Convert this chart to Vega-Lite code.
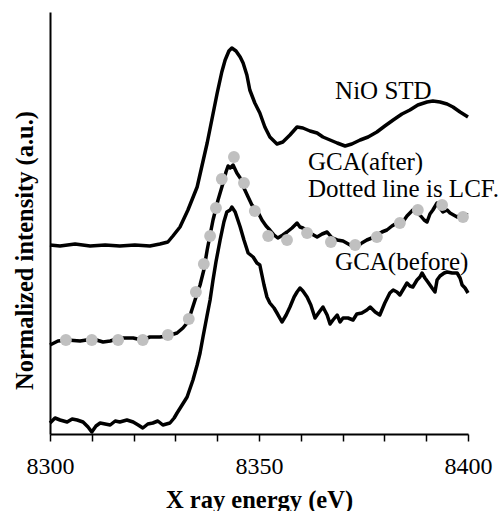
{
  "$schema": "https://vega.github.io/schema/vega-lite/v6.json",
  "width": 418,
  "height": 422,
  "autosize": {"type": "none"},
  "padding": {"left": 50, "top": 12, "right": 34, "bottom": 77},
  "background": "white",
  "config": {
    "view": {"stroke": null},
    "font": "Liberation Serif"
  },
  "datasets": {
    "lines": [
      {"s":"nio","e":8300,"v":189},{"s":"nio","e":8302.4,"v":188},{"s":"nio","e":8306,"v":190},{"s":"nio","e":8309.6,"v":188},{"s":"nio","e":8313.2,"v":189},{"s":"nio","e":8316.7,"v":188},{"s":"nio","e":8320.3,"v":189},{"s":"nio","e":8323.9,"v":188},{"s":"nio","e":8326.3,"v":190},{"s":"nio","e":8328.2,"v":192},{"s":"nio","e":8329.4,"v":198},{"s":"nio","e":8331.1,"v":207},{"s":"nio","e":8333,"v":224},{"s":"nio","e":8335.2,"v":247},{"s":"nio","e":8337.6,"v":291},{"s":"nio","e":8338.8,"v":316},{"s":"nio","e":8340,"v":341},{"s":"nio","e":8341.1,"v":362},{"s":"nio","e":8341.9,"v":374},{"s":"nio","e":8342.8,"v":383},{"s":"nio","e":8343.5,"v":386},{"s":"nio","e":8344.5,"v":383},{"s":"nio","e":8345.5,"v":377},{"s":"nio","e":8346.2,"v":371},{"s":"nio","e":8347.1,"v":359},{"s":"nio","e":8347.8,"v":344},{"s":"nio","e":8349,"v":331},{"s":"nio","e":8350.2,"v":321},{"s":"nio","e":8351.4,"v":307},{"s":"nio","e":8352.6,"v":297},{"s":"nio","e":8354.3,"v":290},{"s":"nio","e":8355.7,"v":292},{"s":"nio","e":8357.4,"v":299},{"s":"nio","e":8359.1,"v":307},{"s":"nio","e":8360.5,"v":306},{"s":"nio","e":8362.2,"v":303},{"s":"nio","e":8363.9,"v":301},{"s":"nio","e":8365.3,"v":297},{"s":"nio","e":8367,"v":294},{"s":"nio","e":8368.7,"v":291},{"s":"nio","e":8370.6,"v":288},{"s":"nio","e":8372.2,"v":290},{"s":"nio","e":8374.2,"v":294},{"s":"nio","e":8376.1,"v":297},{"s":"nio","e":8378.2,"v":302},{"s":"nio","e":8380.1,"v":308},{"s":"nio","e":8382.1,"v":314},{"s":"nio","e":8384.2,"v":320},{"s":"nio","e":8386.1,"v":324},{"s":"nio","e":8388,"v":329},{"s":"nio","e":8390.2,"v":332},{"s":"nio","e":8391.6,"v":333},{"s":"nio","e":8393.3,"v":332},{"s":"nio","e":8395,"v":330},{"s":"nio","e":8396.4,"v":327},{"s":"nio","e":8398.1,"v":322},{"s":"nio","e":8400,"v":317},

      {"s":"after","e":8300,"v":89},{"s":"after","e":8301.9,"v":93},{"s":"after","e":8304.1,"v":94},{"s":"after","e":8307.2,"v":93},{"s":"after","e":8310.3,"v":95},{"s":"after","e":8312.7,"v":92},{"s":"after","e":8314.4,"v":93},{"s":"after","e":8316.7,"v":96},{"s":"after","e":8319.9,"v":96},{"s":"after","e":8322,"v":94},{"s":"after","e":8323.9,"v":97},{"s":"after","e":8326.3,"v":97},{"s":"after","e":8328,"v":98},{"s":"after","e":8330.4,"v":101},{"s":"after","e":8331.8,"v":106},{"s":"after","e":8332.8,"v":111},{"s":"after","e":8333.7,"v":121},{"s":"after","e":8334.7,"v":134},{"s":"after","e":8335.9,"v":149},{"s":"after","e":8336.8,"v":164},{"s":"after","e":8337.6,"v":184},{"s":"after","e":8338.3,"v":199},{"s":"after","e":8339,"v":214},{"s":"after","e":8340.2,"v":234},{"s":"after","e":8341.4,"v":251},{"s":"after","e":8342.1,"v":262},{"s":"after","e":8342.6,"v":268},{"s":"after","e":8343.1,"v":266},{"s":"after","e":8343.8,"v":269},{"s":"after","e":8344.7,"v":261},{"s":"after","e":8345.5,"v":256},{"s":"after","e":8346.4,"v":246},{"s":"after","e":8347.4,"v":237},{"s":"after","e":8348.3,"v":229},{"s":"after","e":8349.5,"v":224},{"s":"after","e":8350.7,"v":214},{"s":"after","e":8351.7,"v":208},{"s":"after","e":8352.6,"v":204},{"s":"after","e":8353.6,"v":199},{"s":"after","e":8354.5,"v":196},{"s":"after","e":8355.7,"v":199},{"s":"after","e":8356.7,"v":202},{"s":"after","e":8357.9,"v":206},{"s":"after","e":8359.1,"v":211},{"s":"after","e":8359.8,"v":207},{"s":"after","e":8360.5,"v":206},{"s":"after","e":8362.2,"v":201},{"s":"after","e":8363.9,"v":197},{"s":"after","e":8365.1,"v":200},{"s":"after","e":8366.3,"v":202},{"s":"after","e":8367.5,"v":196},{"s":"after","e":8368.7,"v":194},{"s":"after","e":8370.1,"v":193},{"s":"after","e":8371.8,"v":189},{"s":"after","e":8373.4,"v":187},{"s":"after","e":8374.6,"v":191},{"s":"after","e":8375.8,"v":194},{"s":"after","e":8377,"v":196},{"s":"after","e":8378.2,"v":199},{"s":"after","e":8379.4,"v":202},{"s":"after","e":8380.6,"v":204},{"s":"after","e":8381.8,"v":208},{"s":"after","e":8383,"v":211},{"s":"after","e":8384.4,"v":212},{"s":"after","e":8385.4,"v":218},{"s":"after","e":8386.1,"v":221},{"s":"after","e":8386.8,"v":224},{"s":"after","e":8387.8,"v":221},{"s":"after","e":8388.5,"v":219},{"s":"after","e":8389.5,"v":214},{"s":"after","e":8390.2,"v":212},{"s":"after","e":8390.9,"v":220},{"s":"after","e":8391.6,"v":224},{"s":"after","e":8392.6,"v":231},{"s":"after","e":8393.3,"v":226},{"s":"after","e":8394,"v":222},{"s":"after","e":8395,"v":224},{"s":"after","e":8395.7,"v":221},{"s":"after","e":8397.4,"v":217},{"s":"after","e":8398.6,"v":220},{"s":"after","e":8400,"v":219},

      {"s":"before","e":8300,"v":11},{"s":"before","e":8301.2,"v":16},{"s":"before","e":8302.4,"v":14},{"s":"before","e":8304.1,"v":12},{"s":"before","e":8305.3,"v":15},{"s":"before","e":8306.5,"v":14},{"s":"before","e":8307.9,"v":12},{"s":"before","e":8309.1,"v":7},{"s":"before","e":8310,"v":2},{"s":"before","e":8311,"v":8},{"s":"before","e":8312,"v":11},{"s":"before","e":8313.2,"v":10},{"s":"before","e":8314.4,"v":9},{"s":"before","e":8315.6,"v":13},{"s":"before","e":8316.7,"v":12},{"s":"before","e":8318.4,"v":14},{"s":"before","e":8319.9,"v":12},{"s":"before","e":8321.1,"v":9},{"s":"before","e":8322.2,"v":6},{"s":"before","e":8323.4,"v":10},{"s":"before","e":8324.6,"v":11},{"s":"before","e":8325.8,"v":13},{"s":"before","e":8327,"v":9},{"s":"before","e":8328.7,"v":11},{"s":"before","e":8329.7,"v":16},{"s":"before","e":8330.4,"v":21},{"s":"before","e":8331.6,"v":29},{"s":"before","e":8332.8,"v":37},{"s":"before","e":8334.2,"v":54},{"s":"before","e":8335.2,"v":69},{"s":"before","e":8335.9,"v":81},{"s":"before","e":8336.6,"v":97},{"s":"before","e":8337.6,"v":119},{"s":"before","e":8338.3,"v":134},{"s":"before","e":8339,"v":154},{"s":"before","e":8339.7,"v":172},{"s":"before","e":8340.7,"v":194},{"s":"before","e":8341.6,"v":212},{"s":"before","e":8342.3,"v":222},{"s":"before","e":8343.1,"v":224},{"s":"before","e":8343.5,"v":227},{"s":"before","e":8344.3,"v":222},{"s":"before","e":8345.5,"v":207},{"s":"before","e":8346.4,"v":194},{"s":"before","e":8347.4,"v":181},{"s":"before","e":8348.6,"v":177},{"s":"before","e":8349.5,"v":171},{"s":"before","e":8350.2,"v":169},{"s":"before","e":8351.2,"v":149},{"s":"before","e":8351.9,"v":137},{"s":"before","e":8352.6,"v":131},{"s":"before","e":8353.6,"v":126},{"s":"before","e":8354.3,"v":121},{"s":"before","e":8355.5,"v":112},{"s":"before","e":8356.5,"v":119},{"s":"before","e":8357.4,"v":127},{"s":"before","e":8358.4,"v":137},{"s":"before","e":8359.1,"v":142},{"s":"before","e":8359.8,"v":146},{"s":"before","e":8360.5,"v":143},{"s":"before","e":8361.5,"v":137},{"s":"before","e":8362.4,"v":129},{"s":"before","e":8363.4,"v":116},{"s":"before","e":8364.4,"v":122},{"s":"before","e":8365.3,"v":127},{"s":"before","e":8366.3,"v":119},{"s":"before","e":8367,"v":110},{"s":"before","e":8367.7,"v":114},{"s":"before","e":8368.7,"v":119},{"s":"before","e":8369.4,"v":112},{"s":"before","e":8370.1,"v":116},{"s":"before","e":8371.3,"v":116},{"s":"before","e":8372.5,"v":114},{"s":"before","e":8373.4,"v":120},{"s":"before","e":8374.6,"v":121},{"s":"before","e":8375.8,"v":124},{"s":"before","e":8376.6,"v":127},{"s":"before","e":8377.8,"v":122},{"s":"before","e":8378.9,"v":119},{"s":"before","e":8380.1,"v":131},{"s":"before","e":8381.3,"v":141},{"s":"before","e":8382.1,"v":144},{"s":"before","e":8383,"v":142},{"s":"before","e":8383.7,"v":139},{"s":"before","e":8384.7,"v":146},{"s":"before","e":8385.4,"v":151},{"s":"before","e":8386.1,"v":148},{"s":"before","e":8386.8,"v":147},{"s":"before","e":8387.8,"v":154},{"s":"before","e":8388.5,"v":157},{"s":"before","e":8389,"v":161},{"s":"before","e":8389.7,"v":156},{"s":"before","e":8390.4,"v":152},{"s":"before","e":8391.4,"v":146},{"s":"before","e":8392.1,"v":142},{"s":"before","e":8392.6,"v":154},{"s":"before","e":8393.3,"v":158},{"s":"before","e":8394.3,"v":161},{"s":"before","e":8395,"v":162},{"s":"before","e":8396.2,"v":161},{"s":"before","e":8397.4,"v":161},{"s":"before","e":8398.1,"v":156},{"s":"before","e":8398.6,"v":149},{"s":"before","e":8399.3,"v":146},{"s":"before","e":8400,"v":141}
    ],
    "lcf": [
      {"e":8303.8,"v":94},{"e":8310,"v":94},{"e":8316.3,"v":94},{"e":8322.2,"v":94},{"e":8328.2,"v":99},{"e":8333.2,"v":115},{"e":8334.9,"v":142},{"e":8336.8,"v":170},{"e":8338.3,"v":198},{"e":8339.7,"v":226},{"e":8341.1,"v":255},{"e":8344,"v":277},{"e":8346.4,"v":251},{"e":8349,"v":223},{"e":8352.2,"v":198},{"e":8356.7,"v":194},{"e":8361.5,"v":201},{"e":8367.2,"v":192},{"e":8373,"v":189},{"e":8378.2,"v":197},{"e":8383.7,"v":211},{"e":8388,"v":224},{"e":8393.8,"v":229},{"e":8398.8,"v":217}
    ],
    "labels": [
      {"e":8368.2,"v":335,"t":"NiO STD"},
      {"e":8361.7,"v":264,"t":"GCA(after)"},
      {"e":8361.7,"v":237,"t":"Dotted line is LCF."},
      {"e":8368.2,"v":164,"t":"GCA(before)"}
    ]
  },
  "encoding": {
    "x": {
      "field": "e", "type": "quantitative",
      "scale": {"domain": [8300, 8400], "nice": false, "zero": false},
      "axis": {
        "title": "X ray energy (eV)",
        "values": [8300,8310,8320,8330,8340,8350,8360,8370,8380,8390,8400],
        "format": "d",
        "labelExpr": "datum.value % 50 === 0 ? datum.label : ''",
        "grid": false,
        "domainColor": "black", "domainWidth": 2,
        "tickColor": "black", "tickWidth": 1.5, "tickSize": 7,
        "labelFont": "Liberation Serif", "labelFontSize": 24, "labelColor": "black",
        "labelBaseline": "alphabetic", "labelPadding": 32, "labelFlush": false, "labelOverlap": false,
        "titleFont": "Liberation Serif", "titleFontSize": 24.5, "titleFontWeight": "bold", "titleColor": "black",
        "titleBaseline": "alphabetic", "titleY": 73
      }
    },
    "y": {
      "field": "v", "type": "quantitative",
      "scale": {"domain": [0, 422], "nice": false, "zero": false},
      "axis": {
        "title": "Normalized intensity (a.u.)",
        "ticks": false, "labels": false, "grid": false,
        "domainColor": "black", "domainWidth": 2,
        "titleFont": "Liberation Serif", "titleFontSize": 24.5, "titleFontWeight": "bold", "titleColor": "black",
        "titleAngle": 270, "titleBaseline": "alphabetic", "titleAlign": "center",
        "titleX": -18, "titleY": 238
      }
    }
  },
  "layer": [
    {
      "data": {"name": "lines"},
      "mark": {"type": "line", "color": "black", "strokeWidth": 3.5, "strokeJoin": "round"},
      "encoding": {"detail": {"field": "s"}}
    },
    {
      "data": {"name": "lcf"},
      "mark": {"type": "circle", "color": "#c0c0c0", "opacity": 1, "size": 140}
    },
    {
      "data": {"name": "labels"},
      "mark": {"type": "text", "align": "left", "baseline": "alphabetic", "font": "Liberation Serif", "fontSize": 25, "color": "black"},
      "encoding": {"text": {"field": "t"}}
    }
  ]
}
